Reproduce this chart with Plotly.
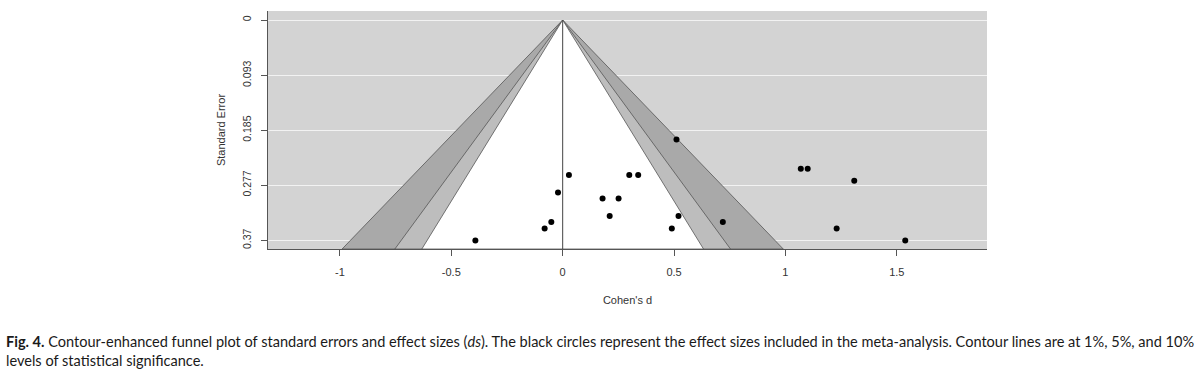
import plotly.graph_objects as go

# Effect sizes (Cohen's d) and standard errors
cohens_d = [-0.392, -0.081, -0.051, -0.021, 0.028, 0.179, 0.211, 0.251, 0.299, 0.339,
            0.490, 0.511, 0.520, 0.719, 1.069, 1.100, 1.230, 1.309, 1.538]
std_err = [0.370, 0.350, 0.339, 0.2895, 0.260, 0.2995, 0.329, 0.2995, 0.260, 0.260,
           0.350, 0.2006, 0.329, 0.339, 0.2498, 0.2498, 0.350, 0.270, 0.370]

# Contour levels (two-sided significance 1%, 5%, 10%)
z_levels = [2.576, 1.960, 1.645]
level_fills = ["#a9a9a9", "#bdbdbd", "#ffffff"]

y_tick_vals = [0, 0.093, 0.185, 0.277, 0.37]
y_tick_text = ["0", "0.093", "0.185", "0.277", "0.37"]
x_tick_vals = [-1, -0.5, 0, 0.5, 1, 1.5]
x_tick_text = ["-1", "-0.5", "0", "0.5", "1", "1.5"]

x_range = [-1.323, 1.905]
y_range = [0.3844, -0.0151]
se_max = y_range[0]

fig = go.Figure()

for z, col in zip(z_levels, level_fills):
    fig.add_trace(go.Scatter(
        x=[0, -z * se_max, z * se_max, 0],
        y=[0, se_max, se_max, 0],
        mode="lines", fill="toself", fillcolor=col,
        line=dict(color="#555555", width=0.8),
        hoverinfo="skip", showlegend=False))

fig.add_trace(go.Scatter(
    x=[0, 0], y=[0, se_max], mode="lines",
    line=dict(color="#444444", width=1), hoverinfo="skip", showlegend=False))

fig.add_trace(go.Scatter(
    x=cohens_d, y=std_err, mode="markers",
    marker=dict(color="black", size=6), showlegend=False))

caption = ("<b>Fig. 4.</b> Contour-enhanced funnel plot of standard errors and effect sizes (<i>ds</i>). "
           "The black circles represent the effect sizes included in the meta-analysis. Contour lines are at 1%, 5%, and 10%"
           "<br>levels of statistical significance.")

fig.add_annotation(
    text=caption, xref="paper", yref="paper",
    x=(4 - 268) / 719, y=(249.3 - 331) / 238.3,
    xanchor="left", yanchor="top", align="left", showarrow=False,
    font=dict(family="Lato, 'Open Sans', sans-serif", size=14.55, color="#1a1a1a"))

fig.update_layout(
    width=1200, height=375,
    margin=dict(l=268, r=213, t=11, b=125.7),
    paper_bgcolor="white", plot_bgcolor="#d3d3d3",
    font=dict(family="Liberation Sans, Arial, sans-serif", size=11, color="#333333"),
    xaxis=dict(range=x_range, tickvals=x_tick_vals, ticktext=x_tick_text,
               automargin=False, ticklabelstandoff=7,
               showgrid=False, zeroline=False, showline=True, linecolor="#555555",
               linewidth=1, ticks="outside", ticklen=6, tickcolor="#555555",
               title=dict(text="Cohen's d", standoff=19, font=dict(size=11))),
    yaxis=dict(range=y_range, tickvals=y_tick_vals, ticktext=y_tick_text,
               automargin=False, ticklabelstandoff=6,
               tickangle=-90, showgrid=True, gridcolor="#f2f2f2", gridwidth=1,
               zeroline=False, showline=True, linecolor="#555555", linewidth=1,
               ticks="outside", ticklen=6, tickcolor="#555555",
               tickfont=dict(size=10.5),
               title=dict(text="Standard Error", standoff=12, font=dict(size=11))),
)

fig.write_html("out.html", post_script="document.body.style.margin='0';",
               config={"displayModeBar": False})
